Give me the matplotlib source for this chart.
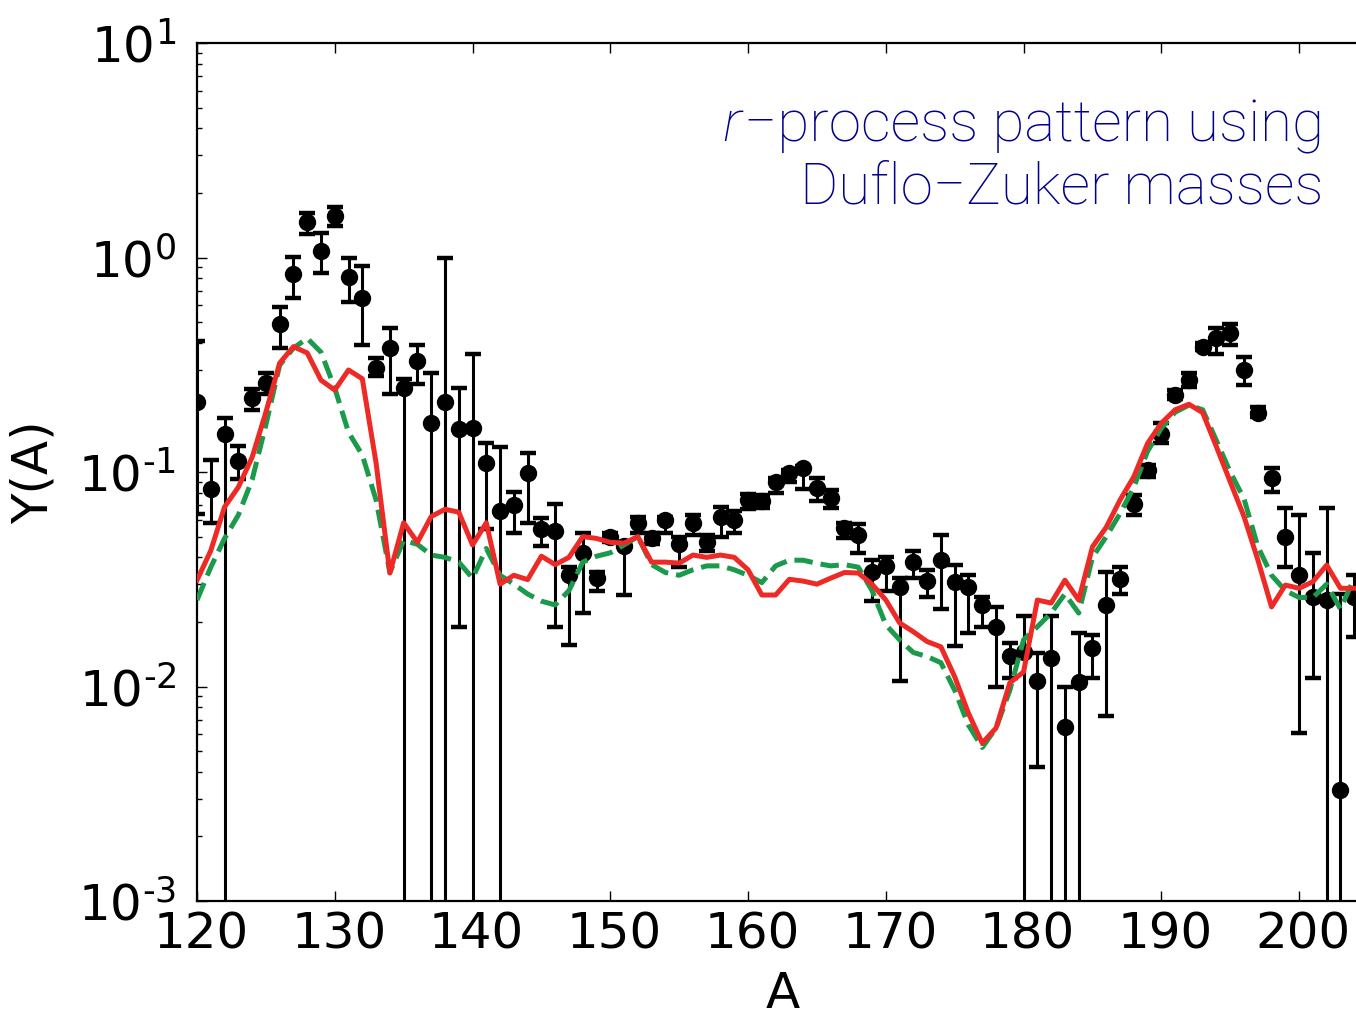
import numpy as np
import matplotlib
matplotlib.use("Agg")
import matplotlib.pyplot as plt
import matplotlib.transforms as mtransforms
from matplotlib.ticker import (LogLocator, NullFormatter, NullLocator,
                               FuncFormatter)

plt.rcParams['mathtext.default'] = 'regular'
plt.rcParams['font.family'] = ['DejaVu Sans']

# Mass number range
mass_number = np.arange(120, 205)

# Solar r-process abundances: central value and lower / upper bounds
# (a lower bound of 1e-6 means the error bar extends below the plotted range)
abund = [0.212, 0.083, 0.150, 0.112, 0.221, 0.26, 0.49, 0.84, 1.46, 1.07,
         1.56, 0.81, 0.65, 0.306, 0.38, 0.246, 0.33, 0.169, 0.212, 0.158,
         0.16, 0.110, 0.066, 0.070, 0.099, 0.054, 0.053, 0.033, 0.042, 0.032,
         0.050, 0.045, 0.058, 0.049, 0.060, 0.046, 0.058, 0.047, 0.062, 0.060,
         0.074, 0.073, 0.090, 0.099, 0.104, 0.084, 0.076, 0.055, 0.051, 0.034,
         0.0365, 0.029, 0.038, 0.031, 0.039, 0.0306, 0.029, 0.024, 0.019, 0.0139,
         0.0145, 0.0106, 0.0136, 0.0065, 0.0105, 0.0151, 0.024, 0.0317, 0.0708, 0.102,
         0.151, 0.229, 0.268, 0.384, 0.423, 0.444, 0.30, 0.189, 0.094, 0.050,
         0.033, 0.026, 0.0253, 0.0033, 0.026]
abund_lo = [0.064, 0.058, 1e-6, 0.093, 0.195, 0.23, 0.38, 0.65, 1.29, 0.85,
            1.40, 0.62, 0.39, 0.28, 0.23, 1e-6, 0.257, 1e-6, 1e-6, 0.019,
            1e-6, 0.054, 1e-6, 0.052, 0.058, 0.045, 0.019, 0.0156, 0.022, 0.028,
            0.047, 0.0266, 0.052, 0.046, 0.052, 0.036, 0.051, 0.043, 0.050, 0.052,
            0.067, 0.068, 0.080, 0.090, 0.083, 0.073, 0.068, 0.049, 0.042, 0.025,
            0.028, 0.0106, 0.032, 0.026, 0.023, 0.0155, 0.0177, 0.019, 0.0099, 0.011,
            1e-6, 0.0042, 1e-6, 1e-6, 1e-6, 0.011, 0.0073, 0.027, 0.063, 0.095,
            0.137, 0.22, 0.25, 0.37, 0.355, 0.39, 0.254, 0.18, 0.081, 0.036,
            0.0061, 0.011, 1e-6, 1e-6, 0.017]
abund_hi = [0.41, 0.114, 0.179, 0.132, 0.245, 0.29, 0.59, 1.01, 1.61, 1.30,
            1.72, 1.00, 0.91, 0.34, 0.47, 0.27, 0.39, 0.29, 1.0, 0.246,
            0.355, 0.137, 0.131, 0.081, 0.123, 0.061, 0.071, 0.036, 0.052, 0.034,
            0.052, 0.047, 0.062, 0.052, 0.062, 0.050, 0.063, 0.051, 0.069, 0.066,
            0.079, 0.078, 0.094, 0.102, 0.107, 0.094, 0.082, 0.058, 0.057, 0.039,
            0.040, 0.032, 0.043, 0.035, 0.051, 0.037, 0.033, 0.026, 0.0235, 0.016,
            0.0213, 0.0143, 0.0213, 0.0099, 0.0177, 0.0173, 0.034, 0.036, 0.078, 0.108,
            0.169, 0.24, 0.29, 0.40, 0.47, 0.49, 0.343, 0.20, 0.104, 0.068,
            0.063, 0.042, 0.068, 0.027, 0.033]

# Calculated pattern, Duflo-Zuker masses (solid)
yield_dz = [0.0313, 0.043, 0.0687, 0.085, 0.117, 0.19, 0.322, 0.384, 0.359, 0.268,
            0.241, 0.299, 0.272, 0.11, 0.0338, 0.058, 0.047, 0.062, 0.067, 0.065,
            0.0457, 0.058, 0.030, 0.033, 0.0315, 0.0405, 0.037, 0.040, 0.050, 0.049,
            0.047, 0.0466, 0.050, 0.038, 0.038, 0.0376, 0.041, 0.040, 0.041, 0.040,
            0.035, 0.0267, 0.0267, 0.0316, 0.031, 0.030, 0.032, 0.034, 0.0338, 0.030,
            0.0253, 0.0198, 0.018, 0.0162, 0.0153, 0.0111, 0.0075, 0.00545, 0.0064, 0.0104,
            0.0117, 0.0253, 0.0245, 0.0313, 0.0253, 0.0448, 0.0553, 0.074, 0.095, 0.136,
            0.169, 0.195, 0.207, 0.189, 0.131, 0.090, 0.062, 0.039, 0.0235, 0.0297,
            0.0287, 0.0308, 0.0368, 0.0287, 0.0287]

# Comparison pattern (dashed)
yield_ref = [0.0253, 0.036, 0.049, 0.063, 0.092, 0.166, 0.315, 0.378, 0.42, 0.362,
             0.246, 0.153, 0.12, 0.074, 0.034, 0.048, 0.046, 0.041, 0.040, 0.038,
             0.032, 0.044, 0.033, 0.030, 0.027, 0.025, 0.024, 0.028, 0.038, 0.0405,
             0.042, 0.0457, 0.050, 0.037, 0.034, 0.033, 0.035, 0.0365, 0.0365, 0.035,
             0.033, 0.0305, 0.0365, 0.0388, 0.0388, 0.0375, 0.0365, 0.037, 0.036, 0.028,
             0.0194, 0.0165, 0.0144, 0.0138, 0.0129, 0.0096, 0.0066, 0.0052, 0.0064, 0.0096,
             0.0165, 0.019, 0.022, 0.027, 0.022, 0.040, 0.050, 0.064, 0.085, 0.125,
             0.16, 0.19, 0.205, 0.195, 0.14, 0.10, 0.075, 0.045, 0.033, 0.028,
             0.026, 0.026, 0.030, 0.023, 0.032]

x_ticks = [120, 130, 140, 150, 160, 170, 180, 190, 200]

abund = np.array(abund)
yerr = np.vstack([abund - np.array(abund_lo), np.array(abund_hi) - abund])

W, H = 1356, 1019
fig = plt.figure(figsize=(W / 100, H / 100), dpi=100)
ax = fig.add_axes([197 / W, 118 / H, 1171 / W, 858 / H])

ax.errorbar(mass_number, abund, yerr=yerr, fmt='o', color='black',
            markersize=11.5, elinewidth=2.2, capsize=5.5, capthick=3.2,
            zorder=2)
ax.plot(mass_number, yield_ref, color='#1b9a4b', lw=3.6, ls='--', zorder=3)
ax.plot(mass_number, yield_dz, color='#ee2a27', lw=3.6, zorder=4)

ax.set_yscale('log')
ax.set_xlim(120, 205)
ax.set_ylim(1e-3, 10)
ax.set_xticks(x_ticks)
ax.xaxis.set_minor_locator(NullLocator())
ax.yaxis.set_major_locator(LogLocator(base=10, numticks=10))
ax.yaxis.set_minor_locator(LogLocator(base=10, subs=np.arange(2, 10), numticks=20))
ax.yaxis.set_minor_formatter(NullFormatter())


def decade_label(val, pos):
    e = int(round(np.log10(val)))
    if e < 0:
        return r'$10^{\text{-}%d}$' % (-e)
    return r'$10^{%d}$' % e


ax.yaxis.set_major_formatter(FuncFormatter(decade_label))

for s in ax.spines.values():
    s.set_linewidth(1.6)

ax.tick_params(which='both', direction='in', top=True, right=True, width=1.0)
ax.tick_params(which='major', length=7)
ax.tick_params(which='minor', length=3.5)
ax.tick_params(axis='x', labelsize=36, pad=7)
ax.tick_params(axis='y', labelsize=36, pad=15)

shift = mtransforms.ScaledTranslation(4 / 100, 0, fig.dpi_scale_trans)
for lbl in ax.get_xticklabels():
    lbl.set_transform(lbl.get_transform() + shift)

ax.set_xlabel('A', fontsize=36, labelpad=8)
ax.set_ylabel('Y(A)', fontsize=36)
ax.yaxis.set_label_coords((58 - 197) / 1171, 0.5)

# Annotation, right-aligned, with an italic "r"
txt_font = dict(family=['Roboto', 'DejaVu Sans'], weight='light', fontsize=42,
                color='#00008f')
line1 = fig.text(1324 / W, 1 - 141 / H, '\u2212process pattern using',
                 ha='right', va='baseline', **txt_font)
fig.text(1324 / W, 1 - 204 / H, 'Duflo\u2212Zuker masses',
         ha='right', va='baseline', **txt_font)
fig.canvas.draw()
bb = line1.get_window_extent()
x0 = fig.transFigure.inverted().transform((bb.x0, bb.y0))[0]
fig.text(x0 - 0.002, 1 - 141 / H, 'r', ha='right', va='baseline',
         style='italic', **txt_font)

fig.savefig('out.png', dpi=100)
